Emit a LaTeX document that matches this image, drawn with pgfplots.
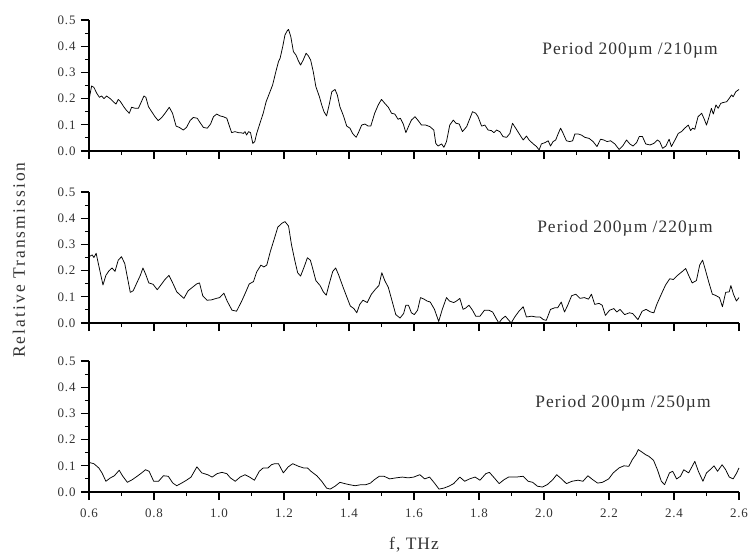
\documentclass[border=0pt]{standalone}
\usepackage{fontspec}
\setmainfont{Liberation Serif}
\newfontfamily\lblfont[LetterSpace=6]{Liberation Serif}
\newfontfamily\ylblfont[LetterSpace=12]{Liberation Serif}
\usepackage{pgfplots}
\pgfplotsset{compat=1.18}
\definecolor{txt}{rgb}{0.2,0.2,0.2}

\pgfplotstableread{
x y
0.600 0.195
0.608 0.248
0.615 0.243
0.624 0.220
0.632 0.205
0.639 0.210
0.646 0.200
0.654 0.210
0.665 0.200
0.675 0.188
0.683 0.179
0.690 0.197
0.697 0.188
0.708 0.167
0.716 0.154
0.724 0.144
0.731 0.167
0.742 0.163
0.752 0.163
0.759 0.182
0.769 0.210
0.775 0.205
0.783 0.169
0.793 0.150
0.803 0.131
0.813 0.116
0.824 0.128
0.834 0.144
0.847 0.167
0.857 0.144
0.868 0.095
0.878 0.090
0.890 0.080
0.900 0.090
0.911 0.116
0.921 0.128
0.933 0.125
0.942 0.108
0.952 0.090
0.964 0.087
0.974 0.103
0.983 0.131
0.993 0.141
1.003 0.134
1.013 0.131
1.024 0.125
1.032 0.095
1.039 0.070
1.049 0.074
1.060 0.070
1.067 0.070
1.075 0.067
1.080 0.074
1.085 0.061
1.091 0.074
1.097 0.070
1.104 0.029
1.110 0.036
1.116 0.067
1.126 0.106
1.136 0.144
1.145 0.188
1.155 0.220
1.165 0.252
1.175 0.303
1.183 0.341
1.188 0.354
1.196 0.398
1.203 0.443
1.210 0.459
1.214 0.464
1.221 0.436
1.229 0.379
1.237 0.366
1.244 0.345
1.251 0.328
1.259 0.347
1.268 0.373
1.275 0.363
1.282 0.347
1.290 0.303
1.298 0.246
1.309 0.207
1.316 0.176
1.323 0.150
1.331 0.134
1.340 0.182
1.347 0.226
1.357 0.235
1.364 0.214
1.372 0.169
1.383 0.134
1.393 0.095
1.403 0.087
1.411 0.067
1.422 0.052
1.429 0.070
1.439 0.099
1.449 0.103
1.459 0.095
1.467 0.095
1.479 0.144
1.490 0.176
1.500 0.197
1.510 0.182
1.521 0.167
1.531 0.144
1.541 0.141
1.551 0.121
1.558 0.125
1.567 0.103
1.575 0.070
1.585 0.099
1.592 0.118
1.603 0.131
1.613 0.116
1.623 0.099
1.636 0.099
1.649 0.093
1.661 0.080
1.667 0.029
1.674 0.019
1.685 0.027
1.692 0.014
1.700 0.036
1.710 0.099
1.721 0.118
1.729 0.106
1.739 0.103
1.749 0.074
1.762 0.093
1.770 0.118
1.780 0.150
1.790 0.144
1.797 0.131
1.808 0.095
1.818 0.099
1.828 0.080
1.838 0.078
1.846 0.070
1.854 0.080
1.864 0.074
1.874 0.055
1.885 0.052
1.895 0.067
1.903 0.106
1.913 0.087
1.924 0.065
1.936 0.042
1.946 0.057
1.954 0.042
1.967 0.027
1.977 0.017
1.985 0.004
1.992 0.027
2.003 0.032
2.013 0.039
2.020 0.019
2.028 0.036
2.036 0.042
2.044 0.067
2.051 0.087
2.059 0.067
2.069 0.039
2.079 0.036
2.088 0.039
2.095 0.065
2.105 0.065
2.115 0.061
2.126 0.052
2.139 0.048
2.151 0.036
2.163 0.017
2.174 0.045
2.184 0.042
2.194 0.036
2.205 0.039
2.218 0.027
2.231 0.006
2.242 0.019
2.254 0.042
2.264 0.027
2.274 0.019
2.285 0.032
2.293 0.055
2.303 0.055
2.313 0.027
2.326 0.023
2.338 0.029
2.349 0.042
2.356 0.036
2.365 0.010
2.375 0.019
2.385 0.045
2.392 0.017
2.403 0.042
2.413 0.067
2.423 0.074
2.433 0.087
2.444 0.099
2.451 0.078
2.457 0.087
2.464 0.083
2.474 0.131
2.485 0.144
2.492 0.125
2.500 0.099
2.508 0.131
2.515 0.163
2.521 0.141
2.529 0.176
2.536 0.163
2.544 0.182
2.551 0.185
2.562 0.188
2.570 0.201
2.577 0.214
2.582 0.207
2.590 0.226
2.600 0.235
}\dataA

\pgfplotstableread{
x y
0.600 0.253
0.610 0.260
0.615 0.250
0.622 0.266
0.632 0.208
0.643 0.145
0.652 0.182
0.662 0.200
0.671 0.210
0.680 0.197
0.690 0.240
0.700 0.253
0.710 0.227
0.727 0.117
0.736 0.123
0.749 0.158
0.758 0.182
0.766 0.210
0.775 0.184
0.784 0.153
0.797 0.148
0.810 0.127
0.820 0.143
0.833 0.165
0.846 0.182
0.859 0.149
0.870 0.119
0.883 0.104
0.892 0.094
0.905 0.123
0.918 0.136
0.931 0.149
0.940 0.153
0.950 0.104
0.963 0.087
0.976 0.088
0.992 0.094
1.002 0.097
1.015 0.114
1.025 0.084
1.040 0.049
1.054 0.045
1.070 0.084
1.082 0.117
1.093 0.149
1.106 0.158
1.116 0.195
1.129 0.221
1.138 0.214
1.147 0.221
1.158 0.273
1.171 0.325
1.181 0.366
1.194 0.381
1.203 0.387
1.214 0.370
1.223 0.299
1.233 0.240
1.242 0.192
1.251 0.179
1.262 0.214
1.272 0.249
1.281 0.240
1.287 0.214
1.298 0.162
1.311 0.143
1.321 0.119
1.330 0.106
1.339 0.149
1.350 0.197
1.359 0.210
1.368 0.184
1.382 0.136
1.394 0.097
1.404 0.065
1.415 0.055
1.424 0.039
1.433 0.071
1.443 0.087
1.456 0.078
1.469 0.110
1.482 0.130
1.492 0.143
1.501 0.192
1.510 0.162
1.521 0.136
1.531 0.091
1.544 0.032
1.557 0.019
1.568 0.036
1.575 0.068
1.583 0.068
1.592 0.039
1.601 0.032
1.611 0.049
1.620 0.097
1.631 0.091
1.640 0.084
1.650 0.080
1.663 0.052
1.676 0.006
1.687 0.052
1.700 0.097
1.709 0.084
1.722 0.078
1.731 0.084
1.741 0.094
1.751 0.052
1.760 0.058
1.769 0.068
1.780 0.049
1.790 0.026
1.803 0.026
1.817 0.049
1.830 0.049
1.842 0.042
1.852 0.019
1.861 0.000
1.871 0.016
1.881 0.026
1.890 0.013
1.899 0.000
1.910 0.023
1.923 0.045
1.936 0.062
1.946 0.023
1.962 0.026
1.975 0.023
1.988 0.023
1.998 0.013
2.007 0.010
2.020 0.052
2.033 0.058
2.042 0.058
2.053 0.080
2.063 0.042
2.072 0.065
2.085 0.104
2.098 0.110
2.111 0.094
2.124 0.097
2.137 0.091
2.146 0.110
2.156 0.071
2.169 0.075
2.179 0.068
2.189 0.029
2.202 0.049
2.215 0.055
2.224 0.042
2.234 0.052
2.248 0.032
2.263 0.039
2.273 0.036
2.289 0.013
2.302 0.045
2.314 0.052
2.328 0.042
2.338 0.039
2.347 0.071
2.361 0.110
2.374 0.145
2.387 0.169
2.398 0.166
2.411 0.182
2.424 0.195
2.436 0.208
2.445 0.182
2.456 0.153
2.469 0.162
2.479 0.221
2.488 0.240
2.497 0.201
2.507 0.156
2.518 0.110
2.527 0.106
2.540 0.097
2.549 0.062
2.559 0.117
2.570 0.119
2.575 0.143
2.583 0.110
2.592 0.084
2.600 0.097
}\dataB

\pgfplotstableread{
x y
0.600 0.113
0.615 0.108
0.630 0.092
0.640 0.073
0.652 0.041
0.666 0.054
0.678 0.062
0.693 0.083
0.703 0.062
0.718 0.037
0.733 0.047
0.748 0.060
0.762 0.073
0.774 0.085
0.785 0.079
0.799 0.041
0.814 0.041
0.829 0.062
0.844 0.060
0.858 0.034
0.870 0.024
0.885 0.034
0.900 0.045
0.914 0.057
0.932 0.096
0.947 0.073
0.965 0.066
0.979 0.057
0.994 0.070
1.009 0.075
1.024 0.070
1.035 0.054
1.050 0.041
1.065 0.057
1.080 0.066
1.094 0.057
1.109 0.045
1.124 0.079
1.136 0.092
1.151 0.092
1.161 0.104
1.171 0.108
1.183 0.108
1.198 0.073
1.213 0.096
1.227 0.108
1.245 0.098
1.260 0.092
1.272 0.092
1.283 0.079
1.301 0.062
1.316 0.041
1.331 0.015
1.342 0.011
1.357 0.022
1.372 0.037
1.387 0.032
1.401 0.028
1.419 0.024
1.437 0.028
1.452 0.028
1.466 0.034
1.478 0.047
1.493 0.060
1.508 0.060
1.525 0.050
1.545 0.054
1.564 0.057
1.582 0.054
1.599 0.057
1.618 0.066
1.633 0.050
1.648 0.057
1.663 0.034
1.677 0.011
1.692 0.015
1.707 0.022
1.722 0.032
1.741 0.057
1.756 0.041
1.771 0.050
1.788 0.057
1.803 0.045
1.821 0.070
1.832 0.075
1.847 0.054
1.862 0.032
1.877 0.047
1.891 0.057
1.914 0.057
1.936 0.060
1.951 0.041
1.965 0.037
1.980 0.022
1.995 0.019
2.010 0.028
2.027 0.047
2.039 0.066
2.054 0.050
2.069 0.032
2.086 0.041
2.105 0.045
2.120 0.041
2.135 0.062
2.150 0.047
2.165 0.034
2.180 0.037
2.199 0.050
2.213 0.073
2.231 0.092
2.246 0.100
2.261 0.098
2.272 0.124
2.283 0.143
2.290 0.162
2.302 0.152
2.312 0.143
2.323 0.136
2.337 0.121
2.349 0.085
2.361 0.041
2.371 0.028
2.386 0.073
2.396 0.079
2.408 0.050
2.420 0.060
2.430 0.085
2.445 0.073
2.455 0.096
2.464 0.117
2.475 0.079
2.489 0.041
2.500 0.073
2.511 0.085
2.523 0.100
2.534 0.079
2.548 0.104
2.559 0.085
2.570 0.057
2.582 0.050
2.593 0.073
2.600 0.092
}\dataC

\pgfplotsset{
  panel/.style={
    scale only axis,
    width=650bp, height=131bp,
    xmin=0.6, xmax=2.6, ymin=0, ymax=0.5,
    axis x line=bottom, axis y line=left,
    axis line style={-, line width=1.3bp, black},
    every tick/.style={line width=1.1bp, black},
    tick align=outside,
    major tick length=8bp, minor tick length=4bp,
    xtick={0.6,0.8,...,2.61},
    minor xtick={0.7,0.9,...,2.51},
    ytick={0,0.1,...,0.51},
    minor ytick={0.05,0.15,...,0.46},
    /pgf/number format/.cd, fixed, fixed zerofill, precision=1, assume math mode=true,
    /pgfplots/.cd,
    ticklabel style={font=\lblfont\fontsize{13}{15}\selectfont, text=txt},
    yticklabel style={xshift=-2bp},
    xticklabel style={yshift=-5bp},
    label style={font=\lblfont\fontsize{17.5}{20}\selectfont, text=txt},
    clip=false,
  },
  curve/.style={black, line width=0.75bp, line join=round, mark=none},
}

\begin{document}
\begin{tikzpicture}
\useasboundingbox (-89bp,-407bp) rectangle (663bp,151bp);
\begin{axis}[panel, at={(0bp,0bp)}, anchor=south west, xticklabels={}]
  \addplot[curve] table[x=x,y=y] {\dataA};
  \node[font=\lblfont\fontsize{17.5}{20}\selectfont, text=txt] at (axis cs:2.265,0.385) {Period 200µm /210µm};
\end{axis}
\begin{axis}[panel, at={(0bp,-172bp)}, anchor=south west, xticklabels={},
  ylabel={Relative Transmission},
  ylabel style={at={(axis description cs:-0.1077,0.48)}, anchor=center, font=\ylblfont\fontsize{17.5}{20}\selectfont}]
  \addplot[curve] table[x=x,y=y] {\dataB};
  \node[font=\lblfont\fontsize{17.5}{20}\selectfont, text=txt] at (axis cs:2.249,0.363) {Period 200µm /220µm};
\end{axis}
\begin{axis}[panel, at={(0bp,-341bp)}, anchor=south west,
  xlabel={f, THz},
  xlabel style={at={(axis description cs:0.5,0)}, anchor=center, yshift=-53bp}]
  \addplot[curve] table[x=x,y=y] {\dataC};
  \node[font=\lblfont\fontsize{17.5}{20}\selectfont, text=txt] at (axis cs:2.243,0.34) {Period 200µm /250µm};
\end{axis}
\end{tikzpicture}
\end{document}
